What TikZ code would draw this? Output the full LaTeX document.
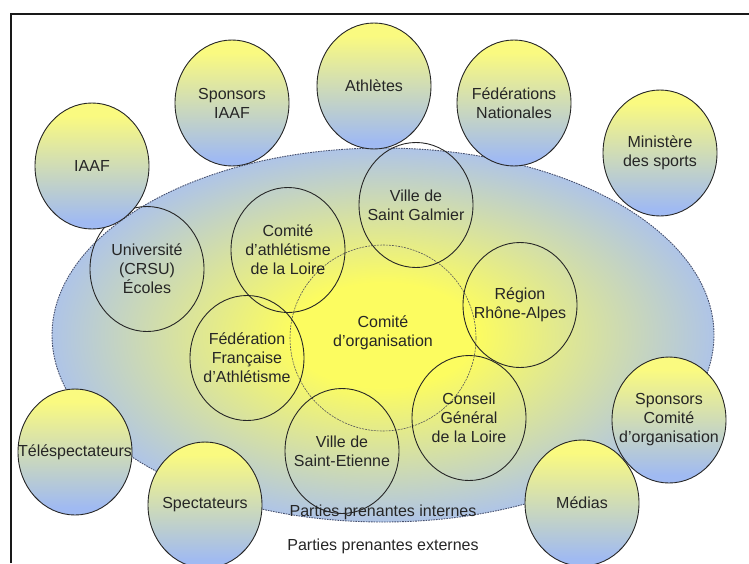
\documentclass[tikz,border=0pt]{standalone}
\usepackage{fontspec}
\setmainfont{Liberation Sans}
\usetikzlibrary{shapes.geometric}
\definecolor{blu}{RGB}{166,190,246}
\definecolor{yel}{RGB}{252,252,96}
\definecolor{oyel}{RGB}{250,250,128}
\definecolor{oblu}{RGB}{160,186,242}
\definecolor{dashc}{RGB}{70,80,110}
\pgfdeclareradialshading{bigrad}{\pgfpoint{0bp}{0bp}}{color(0bp)=(yel); color(7bp)=(yel); color(27bp)=(blu); color(50bp)=(blu)}
\pgfdeclareverticalshading{outgrad}{100bp}{color(0bp)=(oblu); color(28bp)=(oblu); color(70bp)=(oyel); color(100bp)=(oyel)}
\begin{document}
\begin{tikzpicture}[x=1pt,y=-1pt,
  lbl/.style={font=\fontsize{16}{19}\selectfont, align=center, text=black!85, inner sep=0pt},
  inner/.style={ellipse, draw=black!85, line width=0.9pt, inner sep=0pt, minimum width=114pt, minimum height=125pt, label={[lbl]center:#1}},
  outer/.style={ellipse, draw=black!85, line width=0.9pt, inner sep=0pt, minimum width=114pt, minimum height=126pt, shading=outgrad, label={[lbl]center:#1}}]
\useasboundingbox (0,0) rectangle (749,563);
% frame
\draw[line width=2pt, black!90] (11,563) -- (11,14) -- (749,14);
% internal stakeholders area
\node[ellipse, minimum width=662pt, minimum height=374pt, inner sep=0pt, shading=bigrad,
  draw=dashc, line width=0.9pt, dash pattern=on 1.6pt off 1pt] (int) at (383,335) {};
% comité circle
\node[circle, minimum size=186pt, inner sep=0pt, draw=black!65, line width=0.6pt, dash pattern=on 2pt off 1pt] (co) at (383,338) {};
\node[lbl] (cot) at (383,333) {Comité\\d’organisation};
% inner circles
\node[inner={Université\\(CRSU)\\Écoles}] (univ) at (147,269) {};
\node[inner={Comité\\d’athlétisme\\de la Loire}] (cal) at (288,250) {};
\node[inner={Ville de\\Saint Galmier}] (vsg) at (416,205) {};
\node[inner={Région\\Rhône-Alpes}] (rra) at (520,305) {};
\node[inner={Fédération\\Française\\d’Athlétisme}] (ffa) at (247,358) {};
\node[inner={Conseil\\Général\\de la Loire}] (cgl) at (469,418) {};
\node[inner={Ville de\\Saint-Etienne}] (vse) at (342,451) {};
% outer ellipses
\node[outer={IAAF}] (iaaf) at (92,166) {};
\node[outer={Sponsors\\IAAF}] (spi) at (232,103) {};
\node[outer={Athlètes}] (ath) at (374,86) {};
\node[outer={Fédérations\\Nationales}] (fn) at (514,103) {};
\node[outer={Ministère\\des sports}] (min) at (660,153) {};
\node[outer={Sponsors\\Comité\\d’organisation}] (spc) at (669,420) {};
\node[outer={Médias}] (med) at (582,503) {};
\node[outer={Spectateurs}] (spe) at (205,505) {};
\node[outer={Téléspectateurs}] (tel) at (75,452) {};
% labels
\node[lbl] (pin) at (383,512) {Parties prenantes internes};
\node[lbl] (pex) at (383,546) {Parties prenantes externes};
\end{tikzpicture}
\end{document}
